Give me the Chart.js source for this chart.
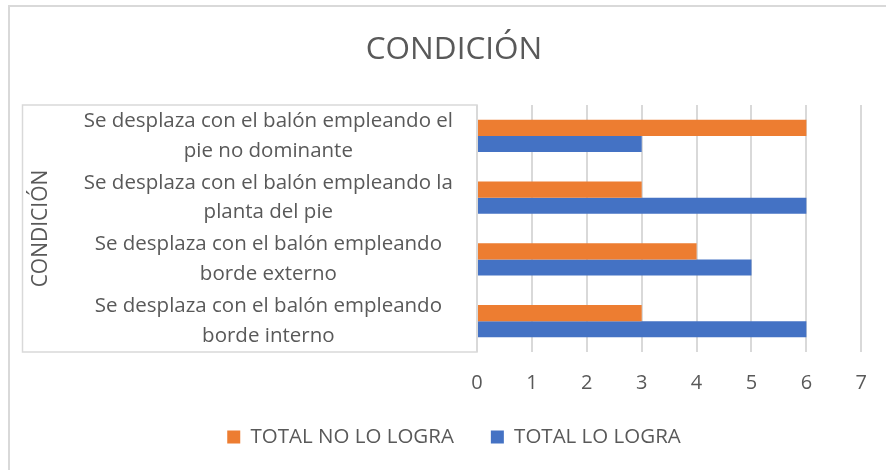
<!DOCTYPE html>
<html>
<head>
<meta charset="utf-8">
<script src="https://cdn.jsdelivr.net/npm/chart.js@4"></script>
<style>
  html, body { margin: 0; padding: 0; background: #fff; }
  #wrap { width: 886px; height: 470px; }
</style>
</head>
<body>
<div id="wrap"><canvas id="chart"></canvas></div>
<script>
// Categories, top to bottom as shown
const categories = [
    ['Se desplaza con el balón empleando el', 'pie no dominante'],
    ['Se desplaza con el balón empleando la', 'planta del pie'],
    ['Se desplaza con el balón empleando', 'borde externo'],
    ['Se desplaza con el balón empleando', 'borde interno']
];
const totalNoLoLogra = [6, 3, 4, 3];
const totalLoLogra = [3, 6, 5, 6];
const xTicks = [0, 1, 2, 3, 4, 5, 6, 7];

const textColor = '#595959';
const lineColor = '#d9d9d9';
const fontFamily = '"Open Sans", sans-serif';

// Outer chart border and the box round the category labels
const framePlugin = {
    id: 'frame',
    beforeDraw(chart) {
        const ctx = chart.ctx;
        const area = chart.chartArea;
        ctx.save();
        ctx.strokeStyle = lineColor;
        ctx.lineWidth = 2;
        ctx.strokeRect(9, 6, 900, 500);
        ctx.lineWidth = 1.5;
        ctx.strokeRect(22.5, area.top, area.left - 22.5, area.bottom - area.top);
        ctx.restore();
    }
};

const ctx = document.getElementById('chart');
new Chart(ctx, {
    type: 'bar',
    data: {
        labels: categories,
        datasets: [
            {
                label: 'TOTAL NO LO LOGRA',
                data: totalNoLoLogra,
                backgroundColor: '#ED7D31'
            },
            {
                label: 'TOTAL LO LOGRA',
                data: totalLoLogra,
                backgroundColor: '#4472C4'
            }
        ]
    },
    options: {
        indexAxis: 'y',
        responsive: true,
        maintainAspectRatio: false,
        animation: false,
        barPercentage: 1,
        categoryPercentage: 0.52,
        layout: {
            padding: { left: 46, right: 24, top: 0, bottom: 12.75 }
        },
        plugins: {
            title: {
                display: true,
                text: 'CONDICIÓN',
                color: textColor,
                font: { family: fontFamily, size: 31.5, weight: 'normal' },
                padding: { top: 31, bottom: 36.2 }
            },
            legend: {
                position: 'bottom',
                labels: {
                    color: textColor,
                    font: { family: fontFamily, size: 20.5 },
                    boxWidth: 13,
                    boxHeight: 13,
                    padding: 37
                }
            },
            tooltip: { enabled: false }
        },
        scales: {
            x: {
                min: 0,
                max: 7,
                afterBuildTicks(scale) {
                    scale.ticks = xTicks.map(v => ({ value: v }));
                },
                afterFit(scale) {
                    scale.height = 37.75;
                },
                border: { display: false },
                grid: {
                    color: lineColor,
                    lineWidth: 2,
                    drawTicks: false
                },
                ticks: {
                    color: textColor,
                    font: { family: fontFamily, size: 20 },
                    padding: 19
                }
            },
            y: {
                afterFit(scale) {
                    scale.width = 431;
                },
                border: { display: false },
                grid: { display: false, drawTicks: false },
                ticks: {
                    color: textColor,
                    font: { family: fontFamily, size: 20.5, lineHeight: 1.46 },
                    crossAlign: 'center',
                    autoSkip: false,
                    padding: 24
                },
                title: {
                    display: true,
                    text: 'CONDICIÓN',
                    color: textColor,
                    font: { family: fontFamily, size: 21 },
                    padding: { top: -17.4, bottom: 0 }
                }
            }
        }
    },
    plugins: [framePlugin]
});
</script>
</body>
</html>
